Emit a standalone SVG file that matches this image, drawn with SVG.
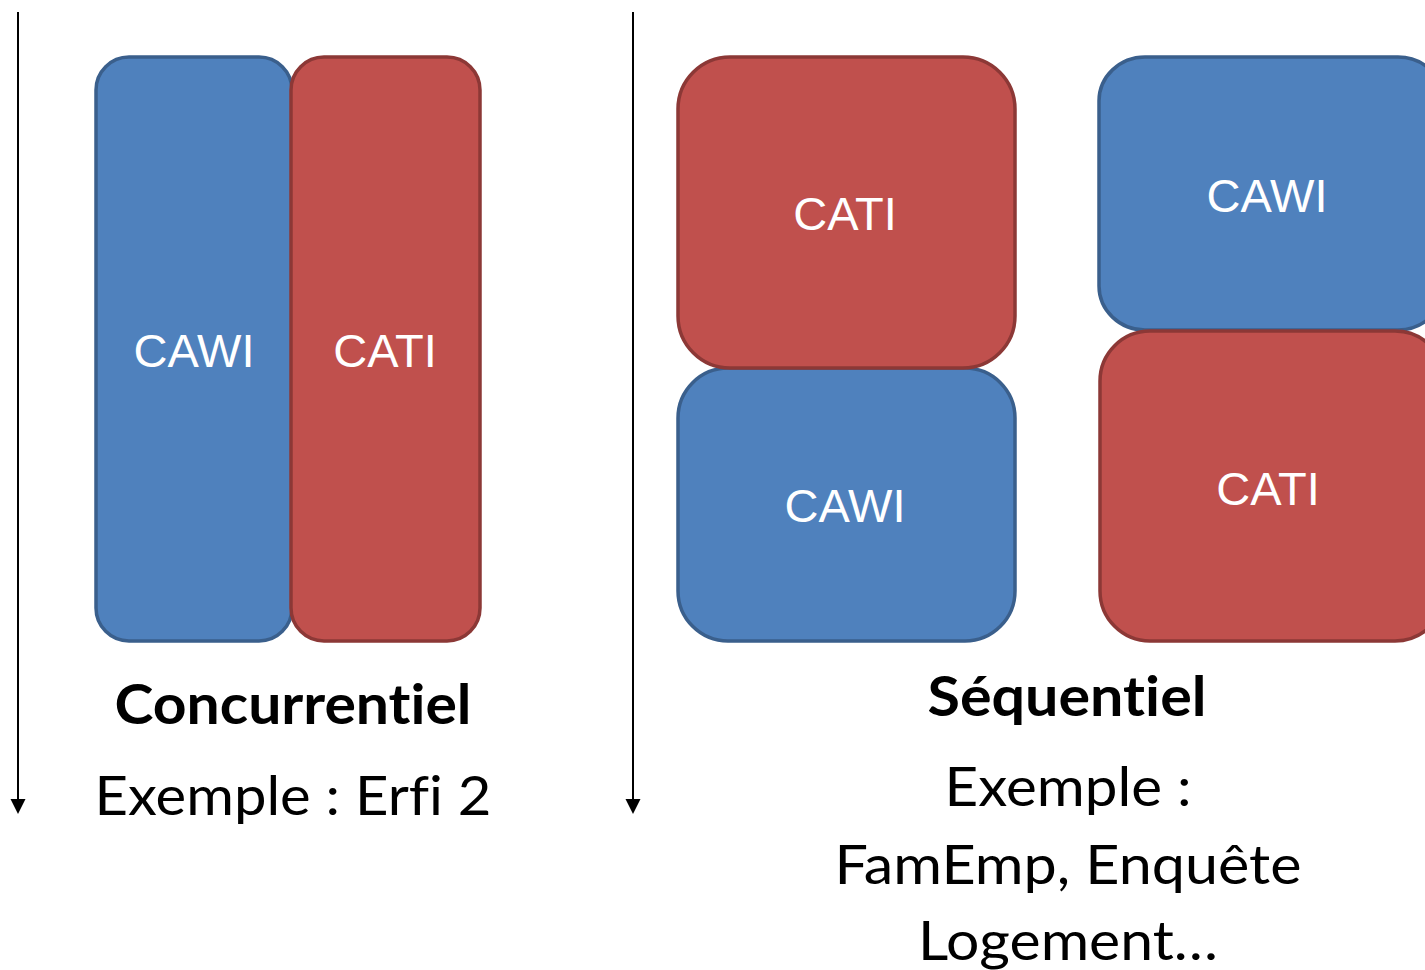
<svg xmlns="http://www.w3.org/2000/svg" width="1425" height="970" viewBox="0 0 1425 970">
<defs>
<style>
.blue{fill:#4F81BD;stroke:#3A5F8C;stroke-width:3.5}
.red{fill:#C0504D;stroke:#8C3836;stroke-width:3.5}
.lbl{font-family:"Liberation Sans",Arial,sans-serif;font-size:47px;fill:#FFFFFF;text-anchor:middle}
.title{font-family:Lato,"Open Sans",sans-serif;font-weight:bold;font-size:55px;fill:#000;text-anchor:middle;font-variant-ligatures:none;font-feature-settings:"liga" 0,"clig" 0,"dlig" 0}
.sub{font-family:Lato,"Open Sans",sans-serif;font-size:54px;fill:#000;text-anchor:middle;font-variant-ligatures:none;font-feature-settings:"liga" 0,"clig" 0,"dlig" 0}
.axis{stroke:#000;stroke-width:2;fill:none}
</style>
</defs>
<rect width="1425" height="970" fill="#FFFFFF"/>
<g id="connectors">
<line class="axis" x1="18" y1="12" x2="18" y2="799"/>
<path d="M10.5,799 L25.5,799 L18,814 Z" fill="#000"/>
<line class="axis" x1="633" y1="12" x2="633" y2="799"/>
<path d="M625.5,799 L640.5,799 L633,814 Z" fill="#000"/>
</g>
<g id="conc-cawi">
<rect class="blue" x="96" y="57" width="196" height="584" rx="33" ry="33"/>
<text class="lbl" x="194" y="367">CAWI</text>
</g>
<g id="conc-cati">
<rect class="red" x="291" y="57" width="189" height="584" rx="33" ry="33"/>
<text class="lbl" x="385" y="367">CATI</text>
</g>
<g id="seq1-cawi">
<rect class="blue" x="678" y="368" width="337" height="273" rx="50" ry="50"/>
<text class="lbl" x="845" y="522">CAWI</text>
</g>
<g id="seq1-cati">
<rect class="red" x="678" y="57" width="337" height="311" rx="52" ry="52"/>
<text class="lbl" x="845" y="230">CATI</text>
</g>
<g id="seq2-cawi">
<rect class="blue" x="1099" y="57" width="345" height="273" rx="46" ry="44"/>
<text class="lbl" x="1267" y="212">CAWI</text>
</g>
<g id="seq2-cati">
<rect class="red" x="1100" y="331" width="345" height="310" rx="50" ry="50"/>
<text class="lbl" x="1268" y="505">CATI</text>
</g>
<g id="labels">
<text class="title" x="293" y="724" textLength="357" lengthAdjust="spacingAndGlyphs">Concurrentiel</text>
<text class="sub" x="293" y="815" textLength="397" lengthAdjust="spacingAndGlyphs">Exemple : Erfi 2</text>
<text class="title" x="1067" y="716" textLength="279" lengthAdjust="spacingAndGlyphs">Séquentiel</text>
<text class="sub" x="1068" y="806" textLength="247" lengthAdjust="spacingAndGlyphs">Exemple :</text>
<text class="sub" x="1068" y="884" textLength="467" lengthAdjust="spacingAndGlyphs">FamEmp, Enquête</text>
<text class="sub" x="1068" y="960" textLength="300" lengthAdjust="spacingAndGlyphs">Logement…</text>
</g>
</svg>
